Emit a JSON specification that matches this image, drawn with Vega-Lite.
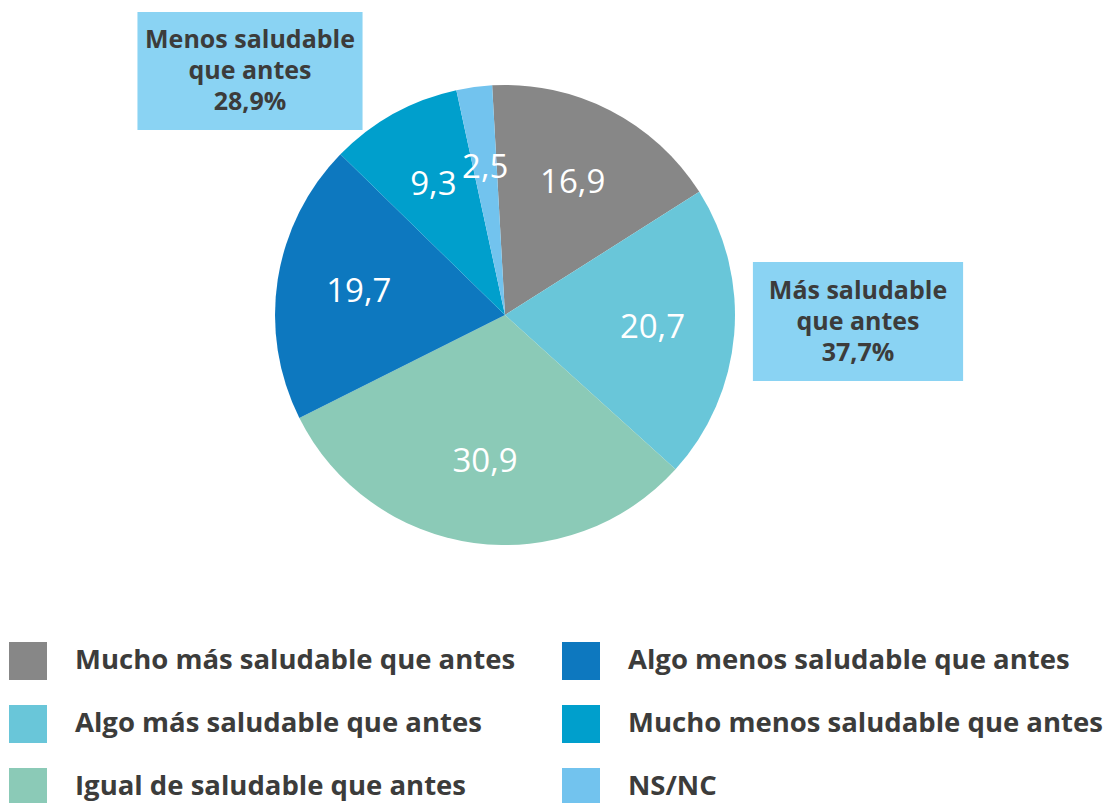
{
  "$schema": "https://vega.github.io/schema/vega-lite/v6.json",
  "width": 1010,
  "height": 630,
  "padding": 0,
  "autosize": {"type": "pad"},
  "background": "white",
  "config": {
    "view": {"stroke": null},
    "font": "Open Sans",
    "legend": {
      "orient": "none",
      "legendX": 9,
      "legendY": 642,
      "columns": 2,
      "symbolType": "square",
      "symbolSize": 1444,
      "symbolStrokeWidth": 0,
      "symbolOpacity": 1,
      "labelFont": "Open Sans",
      "labelFontSize": 27.5,
      "labelFontWeight": "bold",
      "labelColor": "#3c3c3b",
      "labelOffset": 28,
      "labelLimit": 0,
      "rowPadding": 25,
      "columnPadding": 46,
      "title": null
    }
  },
  "datasets": {
    "sectores": [
      {"categoria": "Mucho más saludable que antes", "valor": 16.9, "etiqueta": "16,9", "orden": 1},
      {"categoria": "Algo más saludable que antes", "valor": 20.7, "etiqueta": "20,7", "orden": 2},
      {"categoria": "Igual de saludable que antes", "valor": 30.9, "etiqueta": "30,9", "orden": 3},
      {"categoria": "Algo menos saludable que antes", "valor": 19.7, "etiqueta": "19,7", "orden": 4},
      {"categoria": "Mucho menos saludable que antes", "valor": 9.3, "etiqueta": "9,3", "orden": 5},
      {"categoria": "NS/NC", "valor": 2.5, "etiqueta": "2,5", "orden": 6}
    ],
    "grupos": [
      {"grupo": "Menos", "texto": "Menos saludable|que antes|28,9%"},
      {"grupo": "Más", "texto": "Más saludable|que antes|37,7%"}
    ]
  },
  "layer": [
    {
      "data": {"name": "sectores"},
      "mark": {"type": "arc", "radius": 230, "strokeWidth": 0},
      "encoding": {
        "theta": {"field": "valor", "type": "quantitative", "stack": true, "scale": {"range": [-0.056, 6.2272]}},
        "order": {"field": "orden", "type": "quantitative"},
        "color": {
          "field": "categoria",
          "type": "nominal",
          "scale": {
            "domain": [
              "Mucho más saludable que antes",
              "Algo más saludable que antes",
              "Igual de saludable que antes",
              "Algo menos saludable que antes",
              "Mucho menos saludable que antes",
              "NS/NC"
            ],
            "range": ["#878787", "#69c6d9", "#8bcab7", "#0d78bf", "#009fcc", "#72c3ee"]
          }
        }
      }
    },
    {
      "data": {"name": "sectores"},
      "mark": {"type": "text", "radius": 148, "fontSize": 33, "color": "white", "font": "Open Sans", "align": "center", "baseline": "middle"},
      "encoding": {
        "theta": {"field": "valor", "type": "quantitative", "stack": true, "scale": {"range": [-0.056, 6.2272]}},
        "order": {"field": "orden", "type": "quantitative"},
        "detail": {"field": "categoria", "type": "nominal"},
        "text": {"field": "etiqueta", "type": "nominal"}
      }
    },
    {
      "data": {"name": "grupos"},
      "mark": {"type": "point", "filled": true, "opacity": 1, "color": "#8ad3f3", "size": 51076, "strokeWidth": 0},
      "encoding": {
        "x": {"field": "grupo", "type": "nominal", "scale": {"type": "point", "domain": ["Menos", "Más"], "range": [250, 858], "padding": 0}, "axis": null},
        "y": {"field": "grupo", "type": "nominal", "scale": {"type": "point", "domain": ["Menos", "Más"], "range": [71, 321.5], "padding": 0}, "axis": null},
        "shape": {
          "field": "grupo",
          "type": "nominal",
          "scale": {"domain": ["Menos", "Más"], "range": ["M-0.996,-0.522H0.996V0.522H-0.996Z", "M-0.93,-0.527H0.93V0.527H-0.93Z"]},
          "legend": null
        }
      }
    },
    {
      "data": {"name": "grupos"},
      "mark": {"type": "text", "lineBreak": "|", "fontSize": 25, "fontWeight": "bold", "color": "#3c3c3b", "lineHeight": 31, "align": "center", "baseline": "middle", "dy": -31, "font": "Open Sans"},
      "encoding": {
        "x": {"field": "grupo", "type": "nominal", "scale": {"type": "point", "domain": ["Menos", "Más"], "range": [250, 858], "padding": 0}, "axis": null},
        "y": {"field": "grupo", "type": "nominal", "scale": {"type": "point", "domain": ["Menos", "Más"], "range": [71, 321.5], "padding": 0}, "axis": null},
        "text": {"field": "texto", "type": "nominal"}
      }
    }
  ]
}
